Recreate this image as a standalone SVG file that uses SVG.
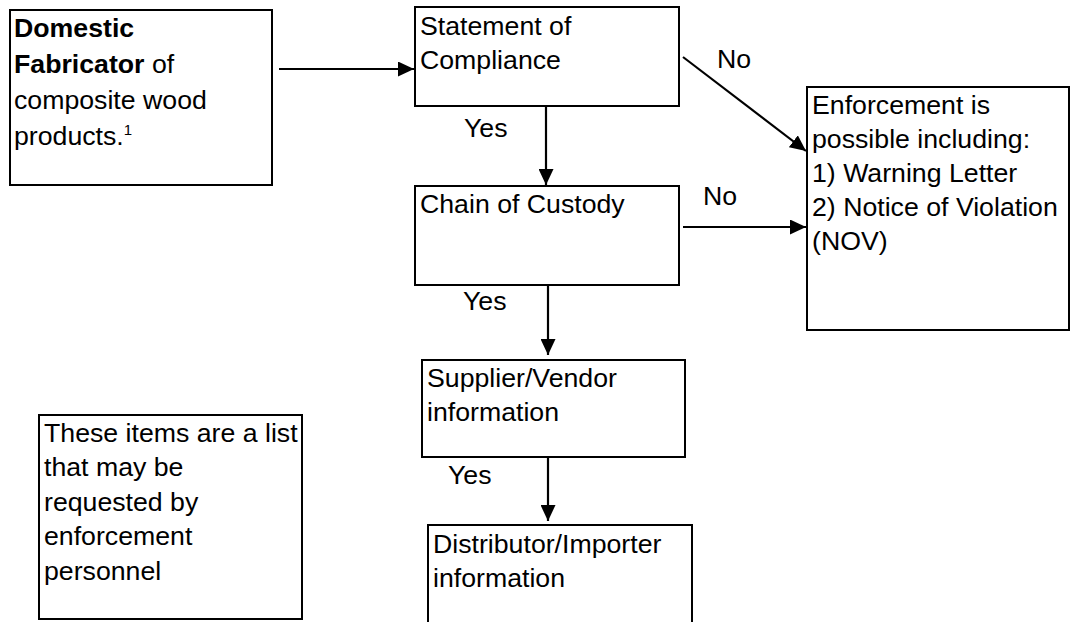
<svg xmlns="http://www.w3.org/2000/svg" width="1071" height="622" viewBox="0 0 1071 622">
  <style>
    .box { fill: #ffffff; stroke: #000000; stroke-width: 2; }
    .lbl { font-family: "Liberation Sans", Arial, sans-serif; font-size: 26.7px; fill: #000000; }
    .b { font-weight: bold; }
    .sup { font-size: 15px; }
    .conn { stroke: #000000; stroke-width: 2.2; fill: none; marker-end: url(#arrow); }
  </style>
  <defs>
    <marker id="arrow" markerUnits="userSpaceOnUse" markerWidth="17" markerHeight="15" refX="16" refY="7.5" orient="auto">
      <path d="M0,0 L16,7.5 L0,15 z" fill="#000000"/>
    </marker>
  </defs>
  <rect width="1071" height="622" fill="#ffffff"/>

  <g id="fabricator">
    <rect class="box" x="10" y="10" width="262" height="175"/>
    <text class="lbl" x="14" y="37"><tspan class="b">Domestic</tspan></text>
    <text class="lbl" x="14" y="73"><tspan class="b">Fabricator</tspan> of</text>
    <text class="lbl" x="14" y="109">composite wood</text>
    <text class="lbl" x="14" y="145">products.<tspan class="sup" dy="-10">1</tspan></text>
  </g>

  <g id="compliance">
    <rect class="box" x="415" y="7" width="264" height="99"/>
    <text class="lbl" x="420" y="35">Statement of</text>
    <text class="lbl" x="420" y="69">Compliance</text>
  </g>

  <g id="custody">
    <rect class="box" x="415" y="186" width="264" height="99"/>
    <text class="lbl" x="420" y="213">Chain of Custody</text>
  </g>

  <g id="supplier">
    <rect class="box" x="422" y="360" width="263" height="97"/>
    <text class="lbl" x="427" y="387">Supplier/Vendor</text>
    <text class="lbl" x="427" y="421">information</text>
  </g>

  <g id="distributor">
    <rect class="box" x="428" y="525" width="264" height="110"/>
    <text class="lbl" x="433" y="553">Distributor/Importer</text>
    <text class="lbl" x="433" y="587">information</text>
  </g>

  <g id="enforcement">
    <rect class="box" x="807" y="87" width="262" height="243"/>
    <text class="lbl" x="812" y="114">Enforcement is</text>
    <text class="lbl" x="812" y="148">possible including:</text>
    <text class="lbl" x="812" y="182">1) Warning Letter</text>
    <text class="lbl" x="812" y="216">2) Notice of Violation</text>
    <text class="lbl" x="812" y="250">(NOV)</text>
  </g>

  <g id="note">
    <rect class="box" x="39" y="415" width="263" height="204"/>
    <text class="lbl" x="44" y="441.5">These items are a list</text>
    <text class="lbl" x="44" y="476">that may be</text>
    <text class="lbl" x="44" y="510.5">requested by</text>
    <text class="lbl" x="44" y="545">enforcement</text>
    <text class="lbl" x="44" y="579.5">personnel</text>
  </g>

  <g id="connectors">
    <line class="conn" x1="279" y1="69" x2="414" y2="69"/>
    <line class="conn" x1="546" y1="106" x2="546" y2="185"/>
    <line class="conn" x1="683" y1="57" x2="806" y2="151"/>
    <line class="conn" x1="683" y1="227" x2="806" y2="227"/>
    <line class="conn" x1="548" y1="285" x2="548" y2="355"/>
    <line class="conn" x1="548" y1="457" x2="548" y2="521"/>
    <text class="lbl" x="717" y="68">No</text>
    <text class="lbl" x="464" y="137">Yes</text>
    <text class="lbl" x="703" y="205">No</text>
    <text class="lbl" x="463" y="310">Yes</text>
    <text class="lbl" x="448" y="484">Yes</text>
  </g>
</svg>
